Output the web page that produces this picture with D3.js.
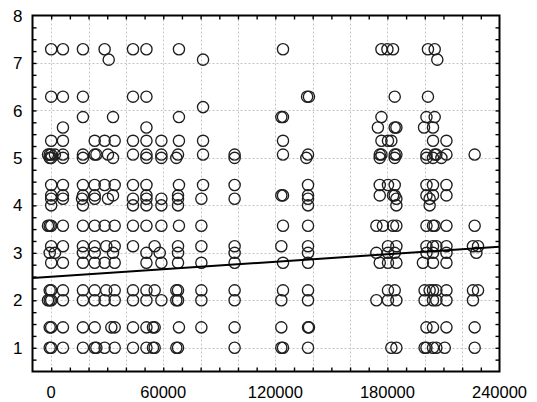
<!DOCTYPE html>
<html>
<head>
<meta charset="utf-8">
<script src="https://cdn.jsdelivr.net/npm/d3@7/dist/d3.min.js"></script>
<style>
  html, body { margin: 0; padding: 0; background: #fff; }
  svg { display: block; }
  text { font-family: "Liberation Sans", Arial, sans-serif; fill: #000; }
</style>
</head>
<body>
<svg id="chart" width="537" height="402"></svg>
<script>
// ---- data ----
const xTickLabels = [0, 60000, 120000, 180000, 240000];
const yTickLabels = [1, 2, 3, 4, 5, 6, 7, 8];
const xDomain = [-10000, 240000];
const yDomain = [0.5, 8];

// discrete response levels (y) and the x values of the points observed at each level
const yLevels = [7.29, 7.07, 6.29, 6.07, 5.86, 5.64, 5.36, 5.07, 5.0, 4.43, 4.21, 4.14, 4.0,
                 3.57, 3.14, 3.0, 2.79, 2.21, 2.0, 1.43, 1.0];
const xAtLevel = [
  [0, 6300, 17000, 28600, 43800, 51000, 68400, 124100, 176800, 180000, 183000, 201700, 205300],
  [30800, 81300, 206700],
  [0, 6300, 17000, 43800, 51000, 137000, 138000, 183900, 201700],
  [81300],
  [17000, 33100, 68400, 123200, 124100, 176800, 200900, 205300],
  [6300, 51000, 174900, 183900, 184800, 199600, 204400],
  [0, 6300, 23300, 28600, 34000, 43800, 51000, 59000, 68400, 81300, 124100, 176800, 180300, 182100, 204400, 211600],
  [-1700, -800, 0, 2000, 6300, 17000, 23300, 24200, 30400, 43800, 51000, 59000, 67900, 81300, 98200,
   124100, 137500, 175900, 176800, 183900, 184800, 200900, 205300, 206200, 211600, 226700],
  [-800, 0, 6300, 17000, 33100, 51000, 59000, 67000, 98200, 136600, 175900, 183900, 200900, 204400, 208900],
  [0, 6300, 17000, 23300, 28600, 34000, 43800, 51000, 68400, 81300, 98200, 137500, 175900, 180300,
   183900, 200900, 204400, 211600],
  [0, 6300, 17000, 23300, 33100, 51000, 67900, 123200, 124100, 137500, 175900, 183000, 183900, 200900,
   204400, 211600],
  [0, 6300, 16500, 23300, 30400, 43800, 51000, 59000, 67900, 80400, 98200, 137500, 184800, 202600],
  [0, 17000, 43800, 51000, 59000, 67900, 137500, 184800, 202600],
  [-1700, -800, 0, 6300, 17000, 23300, 28600, 34000, 43800, 51000, 59000, 68400, 80400, 124100, 137500,
   174100, 177600, 183000, 184800, 200900, 204400, 205300, 211600, 226700],
  [0, 6300, 17000, 23300, 29500, 34000, 43800, 55400, 67900, 80400, 98200, 123200, 137500, 180300,
   184800, 200900, 204400, 206200, 211600, 225800, 228500],
  [-800, 2000, 17000, 23300, 33100, 51000, 58100, 67900, 98200, 137500, 174100, 180300, 183900,
   200900, 204400, 211600, 227600],
  [0, 6300, 17000, 23300, 28600, 34000, 51000, 59000, 67900, 80400, 98200, 124100, 137500, 175900,
   180300, 184800, 199000, 204400, 211600],
  [-800, 0, 6300, 17000, 23300, 29500, 34000, 43800, 51000, 55400, 67000, 67900, 80400, 98200, 124100,
   137500, 180300, 183900, 199900, 202600, 204400, 206200, 211600, 225800, 228500],
  [-1700, -800, 0, 6300, 17000, 23300, 28600, 34000, 43800, 51000, 59000, 67000, 67900, 80400, 98200,
   123200, 137500, 174100, 180300, 184800, 199900, 204400, 206200, 211600, 225800],
  [-800, 0, 6300, 17000, 23300, 32200, 34000, 43800, 51000, 54500, 55400, 68400, 80400, 98200, 123200,
   137500, 138000, 200900, 204400, 211600, 226700],
  [-800, 0, 6300, 17000, 23300, 24200, 28600, 34000, 43800, 51000, 54500, 55400, 67000, 67900, 98200,
   123200, 124100, 137500, 182100, 184800, 199900, 200900, 204400, 206200, 210700, 226700]
];
// fitted linear regression line y = a + b*x
const fitIntercept = 2.496;
const fitSlope = 2.64e-6;

// ---- drawing ----
const W = 537, H = 402;
const plot = { left: 32.5, right: 499.5, top: 15.5, bottom: 371.5 };
const svg = d3.select("#chart");

const x = d3.scaleLinear().domain(xDomain).range([plot.left, plot.right]);
const y = d3.scaleLinear().domain(yDomain).range([plot.bottom, plot.top]);

const points = [];
yLevels.forEach((lv, i) => xAtLevel[i].forEach(xv => points.push({ x: xv, y: lv })));

// grid lines
const grid = svg.append("g").attr("class", "grid")
  .attr("stroke", "#c4c4c4").attr("stroke-width", 1).attr("stroke-dasharray", "2,2");
d3.range(0, 240000, 20000).forEach(v => {
  grid.append("line")
    .attr("x1", Math.round(x(v)) + 0.5).attr("x2", Math.round(x(v)) + 0.5)
    .attr("y1", plot.top).attr("y2", plot.bottom);
});
d3.range(1, 8).forEach(v => {
  grid.append("line")
    .attr("y1", Math.round(y(v)) + 0.5).attr("y2", Math.round(y(v)) + 0.5)
    .attr("x1", plot.left).attr("x2", plot.right);
});

// points
svg.append("g").attr("class", "points")
  .selectAll("circle").data(points).join("circle")
  .attr("cx", d => x(d.x))
  .attr("cy", d => y(d.y))
  .attr("r", 5.6)
  .attr("fill", "none")
  .attr("stroke", "#1e1e1e")
  .attr("stroke-width", 1.35);

// regression line
svg.append("line")
  .attr("x1", x(xDomain[0])).attr("y1", y(fitIntercept + fitSlope * xDomain[0]))
  .attr("x2", x(xDomain[1])).attr("y2", y(fitIntercept + fitSlope * xDomain[1]))
  .attr("stroke", "#000").attr("stroke-width", 2);

// axes with inward ticks
const xMinor = d3.range(0, 240000, 10000);
const yMinor = d3.range(0.75, 8, 0.25);

const bottomAxis = d3.axisBottom(x).tickValues(xMinor).tickSize(-4).tickFormat("");
const topAxis = d3.axisTop(x).tickValues(xMinor).tickSize(-4).tickFormat("");
const leftAxis = d3.axisLeft(y).tickValues(yMinor).tickSize(-4).tickFormat("");
const rightAxis = d3.axisRight(y).tickValues(yMinor).tickSize(-4).tickFormat("");

function styleAxis(g) {
  g.select(".domain").remove();
  g.selectAll(".tick line").attr("stroke", "#000").attr("stroke-width", 1.4);
}
svg.append("g").attr("transform", `translate(0,${plot.bottom})`).call(bottomAxis).call(styleAxis);
svg.append("g").attr("transform", `translate(0,${plot.top})`).call(topAxis).call(styleAxis);
svg.append("g").attr("transform", `translate(${plot.left},0)`).call(leftAxis).call(styleAxis);
svg.append("g").attr("transform", `translate(${plot.right},0)`).call(rightAxis).call(styleAxis);

// frame
svg.append("rect")
  .attr("x", plot.left).attr("y", plot.top)
  .attr("width", plot.right - plot.left).attr("height", plot.bottom - plot.top)
  .attr("fill", "none").attr("stroke", "#000").attr("stroke-width", 2);

// tick labels
svg.append("g").selectAll("text").data(xTickLabels).join("text")
  .attr("x", d => x(d)).attr("y", 398)
  .attr("text-anchor", "middle").attr("font-size", 16.5)
  .text(d => d);
svg.append("g").selectAll("text").data(yTickLabels).join("text")
  .attr("x", 22.5).attr("y", d => y(d))
  .attr("dy", "0.36em")
  .attr("text-anchor", "end").attr("font-size", 17)
  .text(d => d);
</script>
</body>
</html>
